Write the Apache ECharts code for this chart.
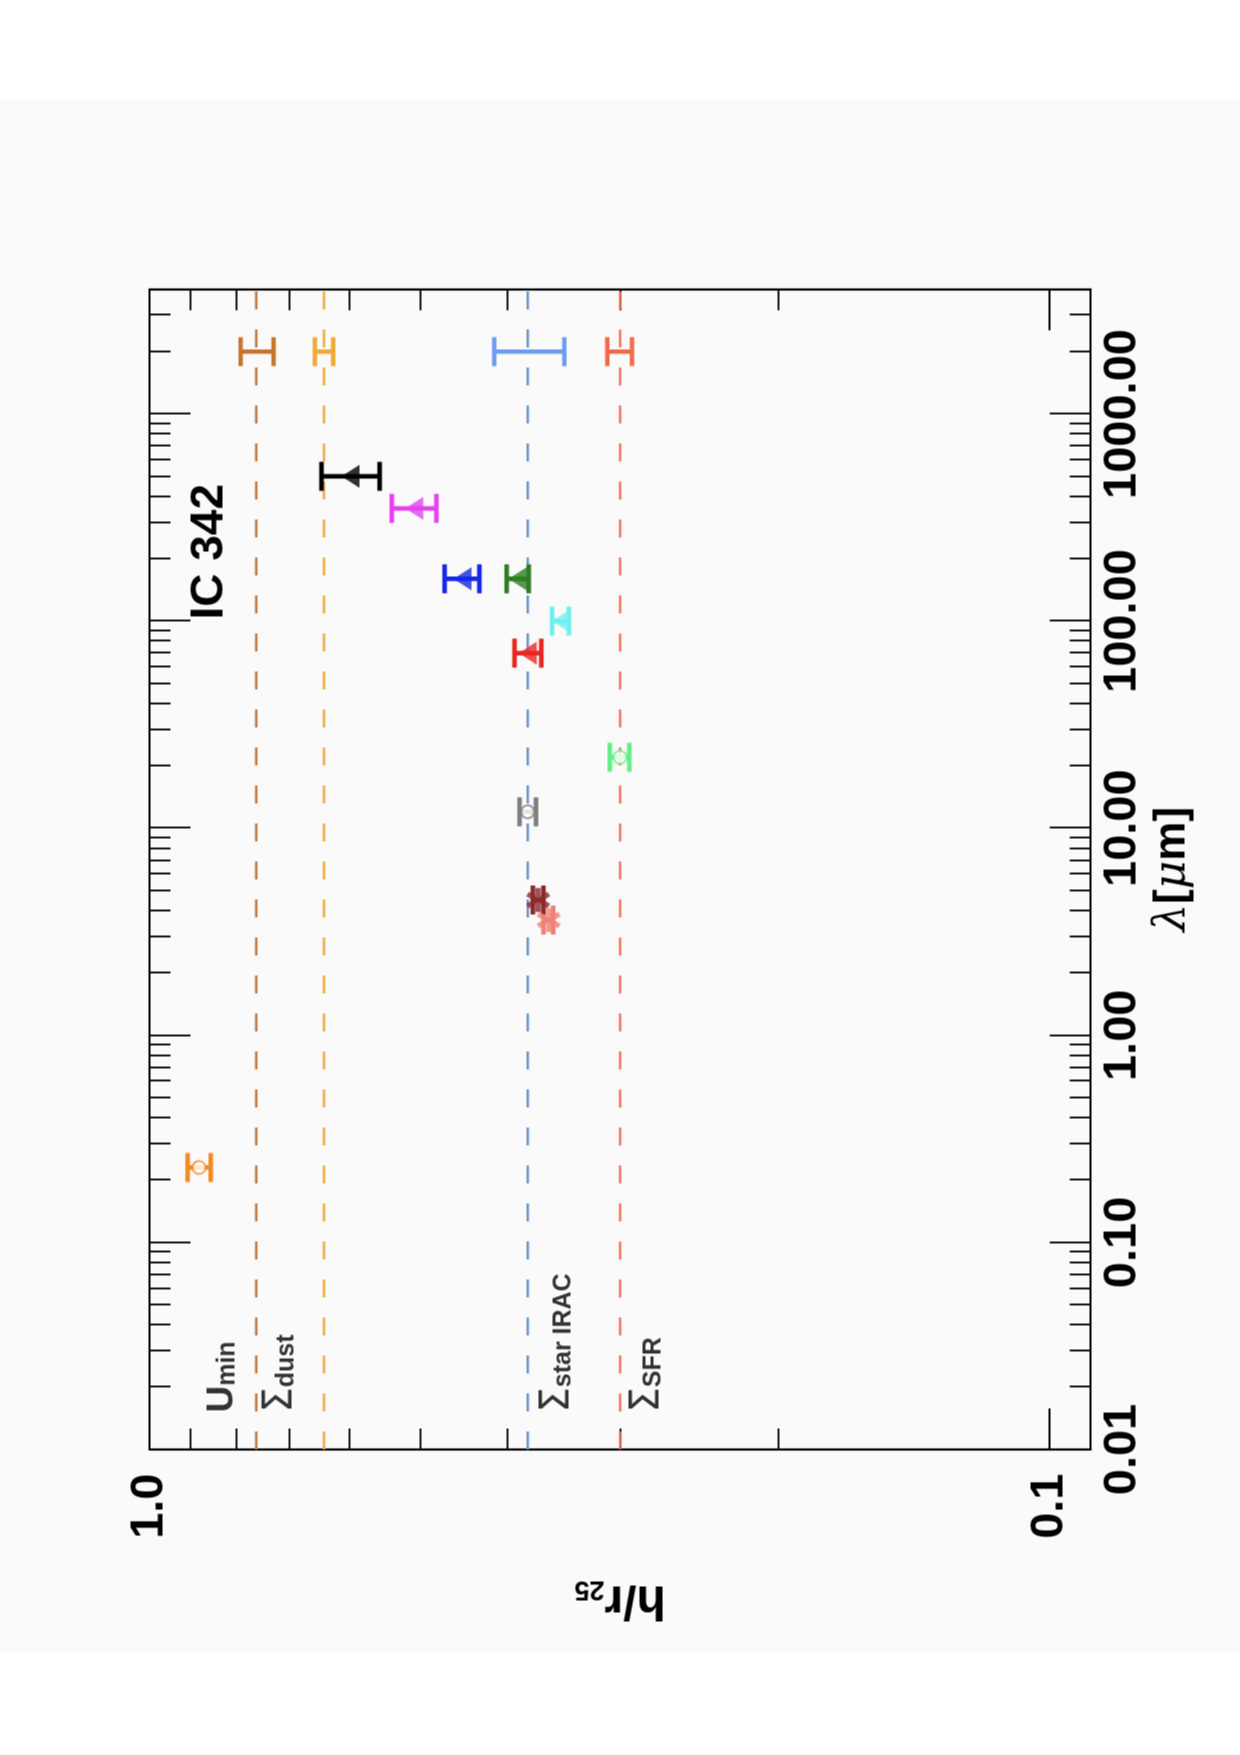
<!DOCTYPE html>
<html>
<head>
<meta charset="utf-8">
<title>IC 342 h/r25</title>
<script src="https://cdn.jsdelivr.net/npm/echarts@6/dist/echarts.min.js"></script>
<style>
html, body { margin:0; padding:0; width:1240px; height:1755px; background:#fff; overflow:hidden; }
#band { position:absolute; left:0; top:100px; width:1240px; height:1552px; background:#fafafa; }
/* chart is drawn upright then turned a quarter turn, like the scanned page */
#main { position:absolute; left:-257.5px; top:257.5px; width:1755px; height:1240px;
        transform:rotate(-90deg); transform-origin:50% 50%; }
</style>
</head>
<body>
<div id="band"></div>
<div id="main"></div>
<script>
// ---- data (wavelength in micron, h/r25 with its error range) ----
var bands  = ['NUV', 'IRAC 3.6', 'IRAC 4.5', 'WISE 12', 'WISE 22', 'PACS 70', 'PACS 100', 'PACS 160', 'MIPS 160', 'SPIRE 350', 'SPIRE 500'];
var lambda = [0.23, 3.6, 4.5, 12, 22, 70, 100, 160, 160, 350, 500];
var hr     = [0.881, 0.360, 0.370, 0.380, 0.300, 0.380, 0.349, 0.449, 0.390, 0.508, 0.598];
var hrLo   = [0.855, 0.356, 0.365, 0.372, 0.293, 0.367, 0.342, 0.430, 0.379, 0.480, 0.555];
var hrHi   = [0.907, 0.365, 0.375, 0.388, 0.308, 0.393, 0.357, 0.470, 0.401, 0.538, 0.644];

// reference scale lengths (dashed lines) with their errors drawn at 2000 micron
var refNames  = ['Umin', 'Sigma dust', 'Sigma star IRAC', 'Sigma SFR'];
var refHr     = [0.761, 0.640, 0.380, 0.300];
var refLo     = [0.728, 0.625, 0.346, 0.291];
var refHi     = [0.792, 0.655, 0.414, 0.310];
var refLambda = 2000;
var refLabelLambda = 0.015;
var refLabelHr = [0.831, 0.714, 0.352, 0.279];
var refLabels  = ['{big|U}{sub|min}', '{sig|Σ}{sub|dust}', '{sig|Σ}{sub|star IRAC}', '{sig|Σ}{sub|SFR}'];

// axes
var lamMin = 0.01, lamMax = 4000;
var hrMin = 0.09, hrMax = 1.0;
var lamMajor = [0.01, 0.1, 1, 10, 100, 1000];
var hrMajor  = [0.1, 1.0];
var lamMinor = [];
[0.01, 0.1, 1, 10, 100, 1000].forEach(function (d) {
    for (var k = 2; k <= 9; k++) { if (d * k < lamMax) lamMinor.push(d * k); }
});
var hrMinor = [0.09, 0.2, 0.3, 0.4, 0.5, 0.6, 0.7, 0.8, 0.9];

// ---- styles ----
var pointColors = ['#f28a28', '#f08078', '#8b2a2a', '#7f7f7f', '#66ee88', '#e8251f', '#6ff0f0', '#1428e6', '#2e7d22', '#e444ee', '#000000'];
var asterisk = 'path://M0 39L100 39L100 61L0 61ZM34.5 1.2L84.5 87.8L65.5 98.8L15.5 12.2ZM84.5 12.2L34.5 98.8L15.5 87.8L65.5 1.2Z';
var pointSymbols = ['emptyCircle', asterisk, asterisk, 'emptyCircle', 'emptyCircle',
                    'triangle', 'triangle', 'triangle', 'triangle', 'triangle', 'triangle'];
var refBarColors  = ['#c8742f', '#efa935', '#6f9bef', '#f26a4a'];
var refLineColors = ['#c17a45', '#eeac45', '#6b96cf', '#e96e52'];

var FONT = 'Liberation Sans';
var lg = function (v) { return Math.log10(v); };

var chart = echarts.init(document.getElementById('main'));

function errorBar(colors, width, capHalf) {
    return function (params, api) {
        var x = api.value(0);
        var a = api.coord([x, api.value(1)]);
        var b = api.coord([x, api.value(2)]);
        var c = colors[params.dataIndex];
        function seg(x1, y1, x2, y2) {
            return { type: 'line', shape: { x1: x1, y1: y1, x2: x2, y2: y2 },
                     style: { stroke: c, lineWidth: width, lineCap: 'butt' } };
        }
        return { type: 'group', children: [
            seg(a[0], a[1], b[0], b[1]),
            seg(a[0] - capHalf, a[1], a[0] + capHalf, a[1]),
            seg(b[0] - capHalf, b[1], b[0] + capHalf, b[1])
        ]};
    };
}

// helper axes in log10 space, only for ticks / labels / frame
function frameAxis(dim, grid, pos, opt) {
    var isX = dim === 'x';
    return {
        type: 'value', gridIndex: grid, position: pos,
        min: isX ? lg(lamMin) : lg(hrMin), max: isX ? lg(lamMax) : lg(hrMax),
        axisLine: { show: !!opt.line, onZero: false, lineStyle: { color: '#000', width: 2.2 } },
        axisTick: { show: true, inside: true, length: opt.len, customValues: opt.ticks.map(lg),
                    lineStyle: { color: '#000', width: 1.8 } },
        axisLabel: opt.labels ? {
            show: true, customValues: opt.labels.map(lg), margin: opt.margin,
            fontFamily: FONT, fontWeight: 'bold', fontSize: 47, color: '#000',
            formatter: function (v) { return Math.pow(10, v).toFixed(isX ? 2 : 1); }
        } : { show: false },
        splitLine: { show: false },
        name: opt.name || '', nameLocation: 'middle', nameGap: opt.nameGap || 0,
        nameRotate: opt.nameRotate, nameTextStyle: opt.nameTextStyle
    };
}

var gridBox = { left: 306, right: 288.8, top: 149, bottom: 149.8 };

var option = {
    animation: false,
    title: { text: 'IC 342', left: 1136, top: 186, padding: 0,
             textStyle: { fontFamily: FONT, fontWeight: 'bold', fontSize: 46, color: '#000' } },
    grid: [gridBox, gridBox, gridBox],
    xAxis: [
        { type: 'log', logBase: 10, min: lamMin, max: lamMax, gridIndex: 0, position: 'bottom', show: false },
        frameAxis('x', 0, 'top', { line: true, ticks: lamMajor, len: 41 }),
        frameAxis('x', 1, 'bottom', { line: true, ticks: lamMajor, len: 41, labels: lamMajor, margin: 8,
            name: '{it|λ}{b|[}{it|μ}{b|m]}', nameGap: 58,
            nameTextStyle: { rich: {
                it: { fontFamily: 'DejaVu Serif', fontStyle: 'italic', fontSize: 44, color: '#000' },
                b:  { fontFamily: FONT, fontWeight: 'bold', fontSize: 44, color: '#000' } } } }),
        frameAxis('x', 1, 'top', { ticks: lamMinor, len: 21 }),
        frameAxis('x', 2, 'bottom', { ticks: lamMinor, len: 21 })
    ],
    yAxis: [
        { type: 'log', logBase: 10, min: hrMin, max: hrMax, gridIndex: 0, position: 'left', show: false },
        frameAxis('y', 0, 'right', { line: true, ticks: hrMajor, len: 41 }),
        frameAxis('y', 1, 'left', { line: true, ticks: hrMajor, len: 41, labels: hrMajor, margin: 24,
            name: '{b|h/r}{s|25}', nameGap: 126, nameRotate: 90,
            nameTextStyle: { rich: {
                b: { fontFamily: FONT, fontWeight: 'bold', fontSize: 48, lineHeight: 48, color: '#000' },
                s: { fontFamily: FONT, fontWeight: 'bold', fontSize: 27, lineHeight: 6, verticalAlign: 'bottom', color: '#000' } } } }),
        frameAxis('y', 1, 'right', { ticks: hrMinor, len: 21 }),
        frameAxis('y', 2, 'left', { ticks: hrMinor, len: 21 })
    ],
    series: []
};

// dashed reference lines
refHr.forEach(function (h, i) {
    option.series.push({
        name: refNames[i], type: 'line', xAxisIndex: 0, yAxisIndex: 0, symbol: 'none', silent: true,
        data: [[lamMin, h], [lamMax, h]],
        lineStyle: { color: refLineColors[i], width: 2.4, type: [18, 20] }, z: 1
    });
});

// error bars of the reference lines
option.series.push({
    type: 'custom', xAxisIndex: 0, yAxisIndex: 0, z: 3,
    renderItem: errorBar(refBarColors, 4.4, 14.5),
    encode: { x: 0, y: [1, 2] },
    data: refHr.map(function (h, i) { return [refLambda, refLo[i], refHi[i]]; })
});

// error bars of the band measurements
option.series.push({
    type: 'custom', xAxisIndex: 0, yAxisIndex: 0, z: 3,
    renderItem: errorBar(pointColors, 4.6, 14.5),
    encode: { x: 0, y: [1, 2] },
    data: lambda.map(function (l, i) { return [l, hrLo[i], hrHi[i]]; })
});

// markers
option.series.push({
    type: 'scatter', xAxisIndex: 0, yAxisIndex: 0, z: 4,
    data: lambda.map(function (l, i) {
        var s = pointSymbols[i];
        return {
            name: bands[i], value: [l, hr[i]], symbol: s,
            symbolSize: s === 'triangle' ? [23, 18] : (s === 'emptyCircle' ? 13 : 24),
            itemStyle: { color: pointColors[i], borderColor: pointColors[i], borderWidth: s === 'emptyCircle' ? 3.5 : 0 }
        };
    })
});

// text labels of the dashed lines
option.series.push({
    type: 'scatter', xAxisIndex: 0, yAxisIndex: 0, z: 5, silent: true,
    symbolSize: 1, itemStyle: { color: 'rgba(0,0,0,0)' },
    label: {
        show: true, position: 'right', distance: 0, color: '#000',
        formatter: function (p) { return refLabels[p.dataIndex]; },
        rich: {
            big: { fontFamily: FONT, fontWeight: 'bold', fontSize: 37, lineHeight: 36, color: '#000' },
            sig: { fontFamily: 'DejaVu Sans', fontSize: 40, lineHeight: 36, color: '#000' },
            sub: { fontFamily: FONT, fontWeight: 'bold', fontSize: 25, lineHeight: 6, verticalAlign: 'bottom', color: '#000' }
        }
    },
    data: refLabelHr.map(function (h) { return [refLabelLambda, h]; })
});

chart.setOption(option);
</script>
</body>
</html>
